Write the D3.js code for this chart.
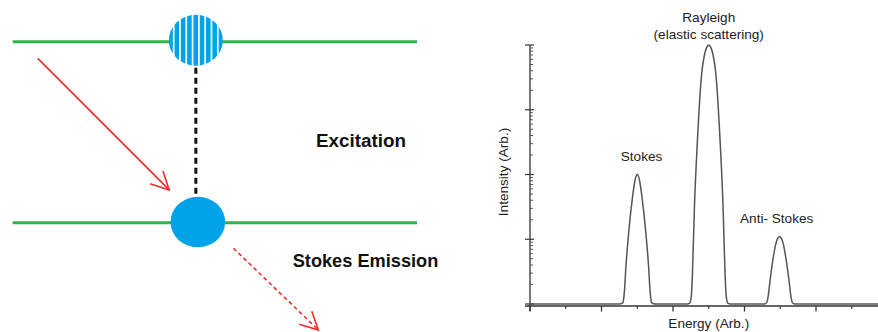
<!DOCTYPE html>
<html lang="en">
<head>
    <meta charset="UTF-8">
    <title>Raman scattering</title>
    <script src="https://d3js.org/d3.v7.min.js"></script>
    <style>
        html, body {
            margin:0;
            padding:0;
            background:#fff;
        }
        svg {
            display:block;
        }
    </style>
</head>
<body>
<div id="chart"></div>
<script>

    // Spectre (énergie en unités arbitraires, intensité en échelle log)
    const energy = [0, 1.25, 1.30, 1.31, 1.32, 1.343, 1.381, 1.433, 1.47, 1.5, 1.53, 1.567, 1.619, 1.657, 1.68, 1.69, 1.70, 1.75,
        2.2, 2.23, 2.255, 2.272, 2.3, 2.342, 2.402, 2.444, 2.474, 2.5, 2.526, 2.556, 2.598, 2.658, 2.7, 2.728, 2.745, 2.77, 2.8,
        3.28, 3.31, 3.33, 3.355, 3.401, 3.434, 3.462, 3.49, 3.518, 3.546, 3.579, 3.625, 3.65, 3.67, 3.70, 4.9];
    const intensity = [1, 1, 1.05, 1.2, 1.55, 4, 13, 44, 83, 100, 83, 44, 13, 4, 1.55, 1.2, 1.05, 1,
        1, 1.02, 1.29, 2.95, 32, 340, 3700, 7400, 9300, 10000, 9300, 7400, 3700, 340, 32, 2.95, 1.29, 1.02, 1,
        1, 1.05, 1.29, 2.2, 5.1, 8.1, 10.2, 11, 10.2, 8.1, 5.1, 2.2, 1.29, 1.05, 1, 1];

    const peakLabels = ["Stokes", "Rayleigh", "(elastic scattering)", "Anti- Stokes"];
    const xMajorTicks = [0, 1, 2, 3, 4];
    const xMinorTicks = [0.5, 1.5, 2.5, 3.5, 4.5];
    const yMajorTicks = [1, 10, 100, 1000, 10000];

    // Schéma (niveaux 0 = fondamental, 1 = virtuel)
    const levels = [0, 1];
    const atomX = 0.453;
    const incoming = [[0.062, 0.908], [0.387, 0.181]];
    const outgoing = [[0.546, -0.141], [0.756, -0.593]];
    const diagramLabels = ["Excitation", "Stokes Emission"];

    const W = 878, H = 332;
    const svg = d3.select("#chart").append("svg")
        .attr("width", W)
        .attr("height", H);

    // ---------- schéma de gauche ----------
    const xD = d3.scaleLinear().domain([0, 1]).range([12.7, 417]);
    const yD = d3.scaleLinear().domain([0, 1]).range([222.7, 41.7]);

    const defs = svg.append("defs");
    const pat = defs.append("pattern")
        .attr("id", "stripes")
        .attr("patternUnits", "userSpaceOnUse")
        .attr("x", 172.8).attr("y", 0)
        .attr("width", 6.3).attr("height", 10);
    pat.append("rect").attr("width", 6.3).attr("height", 10).attr("fill", "#00a2e8");
    pat.append("rect").attr("width", 1.7).attr("height", 10).attr("fill", "#fff");

    svg.selectAll("line.level")
        .data(levels)
        .join("line")
        .attr("class", "level")
        .attr("x1", xD(0)).attr("x2", xD(1))
        .attr("y1", d => yD(d)).attr("y2", d => yD(d))
        .attr("stroke", "#2fb34a")
        .attr("stroke-width", 3);

    svg.append("line")
        .attr("x1", xD(atomX)).attr("x2", xD(atomX))
        .attr("y1", yD(1) + 26).attr("y2", yD(0) - 25)
        .attr("stroke", "#111")
        .attr("stroke-width", 3)
        .attr("stroke-dasharray", "6,4");

    svg.append("ellipse")
        .attr("cx", xD(atomX)).attr("cy", yD(1) - 1.5)
        .attr("rx", 27).attr("ry", 25.5)
        .attr("fill", "url(#stripes)");

    svg.append("ellipse")
        .attr("cx", xD(atomX) + 2).attr("cy", yD(0) - 0.7)
        .attr("rx", 27.3).attr("ry", 25.3)
        .attr("fill", "#00a2e8");

    function drawArrow(pts, dashed) {
        const x1 = xD(pts[0][0]), y1 = yD(pts[0][1]);
        const x2 = xD(pts[1][0]), y2 = yD(pts[1][1]);
        const a = Math.atan2(y2 - y1, x2 - x1);
        const g = svg.append("g")
            .attr("stroke", "#f42b2b")
            .attr("stroke-width", 1.6)
            .attr("fill", "none");
        g.append("line")
            .attr("x1", x1).attr("y1", y1)
            .attr("x2", x2).attr("y2", y2)
            .attr("stroke-dasharray", dashed ? "4,3" : null);
        const len = 20, spread = 0.47;
        g.append("path")
            .attr("d", `M${x2 + len * Math.cos(a + Math.PI - spread)},${y2 + len * Math.sin(a + Math.PI - spread)}`
                + `L${x2},${y2}`
                + `L${x2 + len * Math.cos(a + Math.PI + spread)},${y2 + len * Math.sin(a + Math.PI + spread)}`);
    }
    drawArrow(incoming, false);
    drawArrow(outgoing, true);

    svg.append("text")
        .attr("x", 316).attr("y", 146.7)
        .attr("font-family", "Liberation Sans, Arial, sans-serif")
        .attr("font-weight", "bold")
        .attr("font-size", 18)
        .attr("textLength", 90)
        .attr("lengthAdjust", "spacingAndGlyphs")
        .attr("fill", "#111")
        .text(diagramLabels[0]);

    svg.append("text")
        .attr("x", 292.7).attr("y", 266.7)
        .attr("font-family", "Liberation Sans, Arial, sans-serif")
        .attr("font-weight", "bold")
        .attr("font-size", 18)
        .attr("textLength", 145.6)
        .attr("lengthAdjust", "spacingAndGlyphs")
        .attr("fill", "#111")
        .text(diagramLabels[1]);

    // ---------- spectre de droite ----------
    const x = d3.scaleLinear().domain([0, 4.9]).range([530, 530 + 4.9 * 71.5]);
    const y = d3.scaleLog().domain([Math.pow(10, -2 / 64.75), 10000]).range([306, 45]);

    const data = energy.map((e, i) => ({e: e, v: intensity[i]}));
    const axisColor = "#333";

    // axe Y
    svg.append("line")
        .attr("x1", x(0)).attr("x2", x(0))
        .attr("y1", y(10000)).attr("y2", 311)
        .attr("stroke", axisColor).attr("stroke-width", 1.3);

    const yMinor = [];
    for (let d = 1; d < 10000; d *= 10) {
        for (let k = 2; k <= 9; k++) yMinor.push(d * k);
    }
    svg.selectAll("line.ymin")
        .data(yMinor)
        .join("line")
        .attr("class", "ymin")
        .attr("x1", x(0)).attr("x2", x(0) + 3)
        .attr("y1", d => y(d)).attr("y2", d => y(d))
        .attr("stroke", axisColor).attr("stroke-width", 0.8);
    svg.selectAll("line.ymaj")
        .data(yMajorTicks)
        .join("line")
        .attr("class", "ymaj")
        .attr("x1", x(0) - 5).attr("x2", x(0) + 4)
        .attr("y1", d => y(d)).attr("y2", d => y(d))
        .attr("stroke", axisColor).attr("stroke-width", 1.2);

    // axe X
    svg.append("line")
        .attr("x1", x(0) - 5).attr("x2", W)
        .attr("y1", 306).attr("y2", 306)
        .attr("stroke", axisColor).attr("stroke-width", 1.3);
    svg.selectAll("line.xmaj")
        .data(xMajorTicks)
        .join("line")
        .attr("class", "xmaj")
        .attr("x1", d => x(d)).attr("x2", d => x(d))
        .attr("y1", 306).attr("y2", 311.5)
        .attr("stroke", axisColor).attr("stroke-width", 1.3);
    svg.selectAll("line.xmin")
        .data(xMinorTicks)
        .join("line")
        .attr("class", "xmin")
        .attr("x1", d => x(d)).attr("x2", d => x(d))
        .attr("y1", 306).attr("y2", 309)
        .attr("stroke", axisColor).attr("stroke-width", 1.1);

    // courbe
    const line = d3.line()
        .x(d => x(d.e))
        .y(d => y(d.v))
        .curve(d3.curveMonotoneX);
    svg.append("path")
        .datum(data)
        .attr("d", line)
        .attr("fill", "none")
        .attr("stroke", "#555")
        .attr("stroke-width", 1.5);

    // textes
    const font = "Liberation Sans, Arial, sans-serif";
    const labels = [
        {t: peakLabels[0], e: 1.56, yy: 160.7},
        {t: peakLabels[1], e: 2.5, yy: 21.7},
        {t: peakLabels[2], e: 2.5, yy: 39.3},
        {t: peakLabels[3], e: 3.45, yy: 223}
    ];
    svg.selectAll("text.lbl")
        .data(labels)
        .join("text")
        .attr("class", "lbl")
        .attr("x", d => x(d.e))
        .attr("y", d => d.yy)
        .attr("text-anchor", "middle")
        .attr("font-family", font)
        .attr("font-size", 13.6)
        .attr("fill", "#222")
        .text(d => d.t);

    svg.append("text")
        .attr("transform", "translate(508,172) rotate(-90)")
        .attr("text-anchor", "middle")
        .attr("font-family", font)
        .attr("font-size", 13.6)
        .attr("fill", "#222")
        .text("Intensity (Arb.)");

    svg.append("text")
        .attr("x", x(2.5)).attr("y", 328.3)
        .attr("text-anchor", "middle")
        .attr("font-family", font)
        .attr("font-size", 13.6)
        .attr("fill", "#222")
        .text("Energy (Arb.)");
</script>
</body>
</html>
